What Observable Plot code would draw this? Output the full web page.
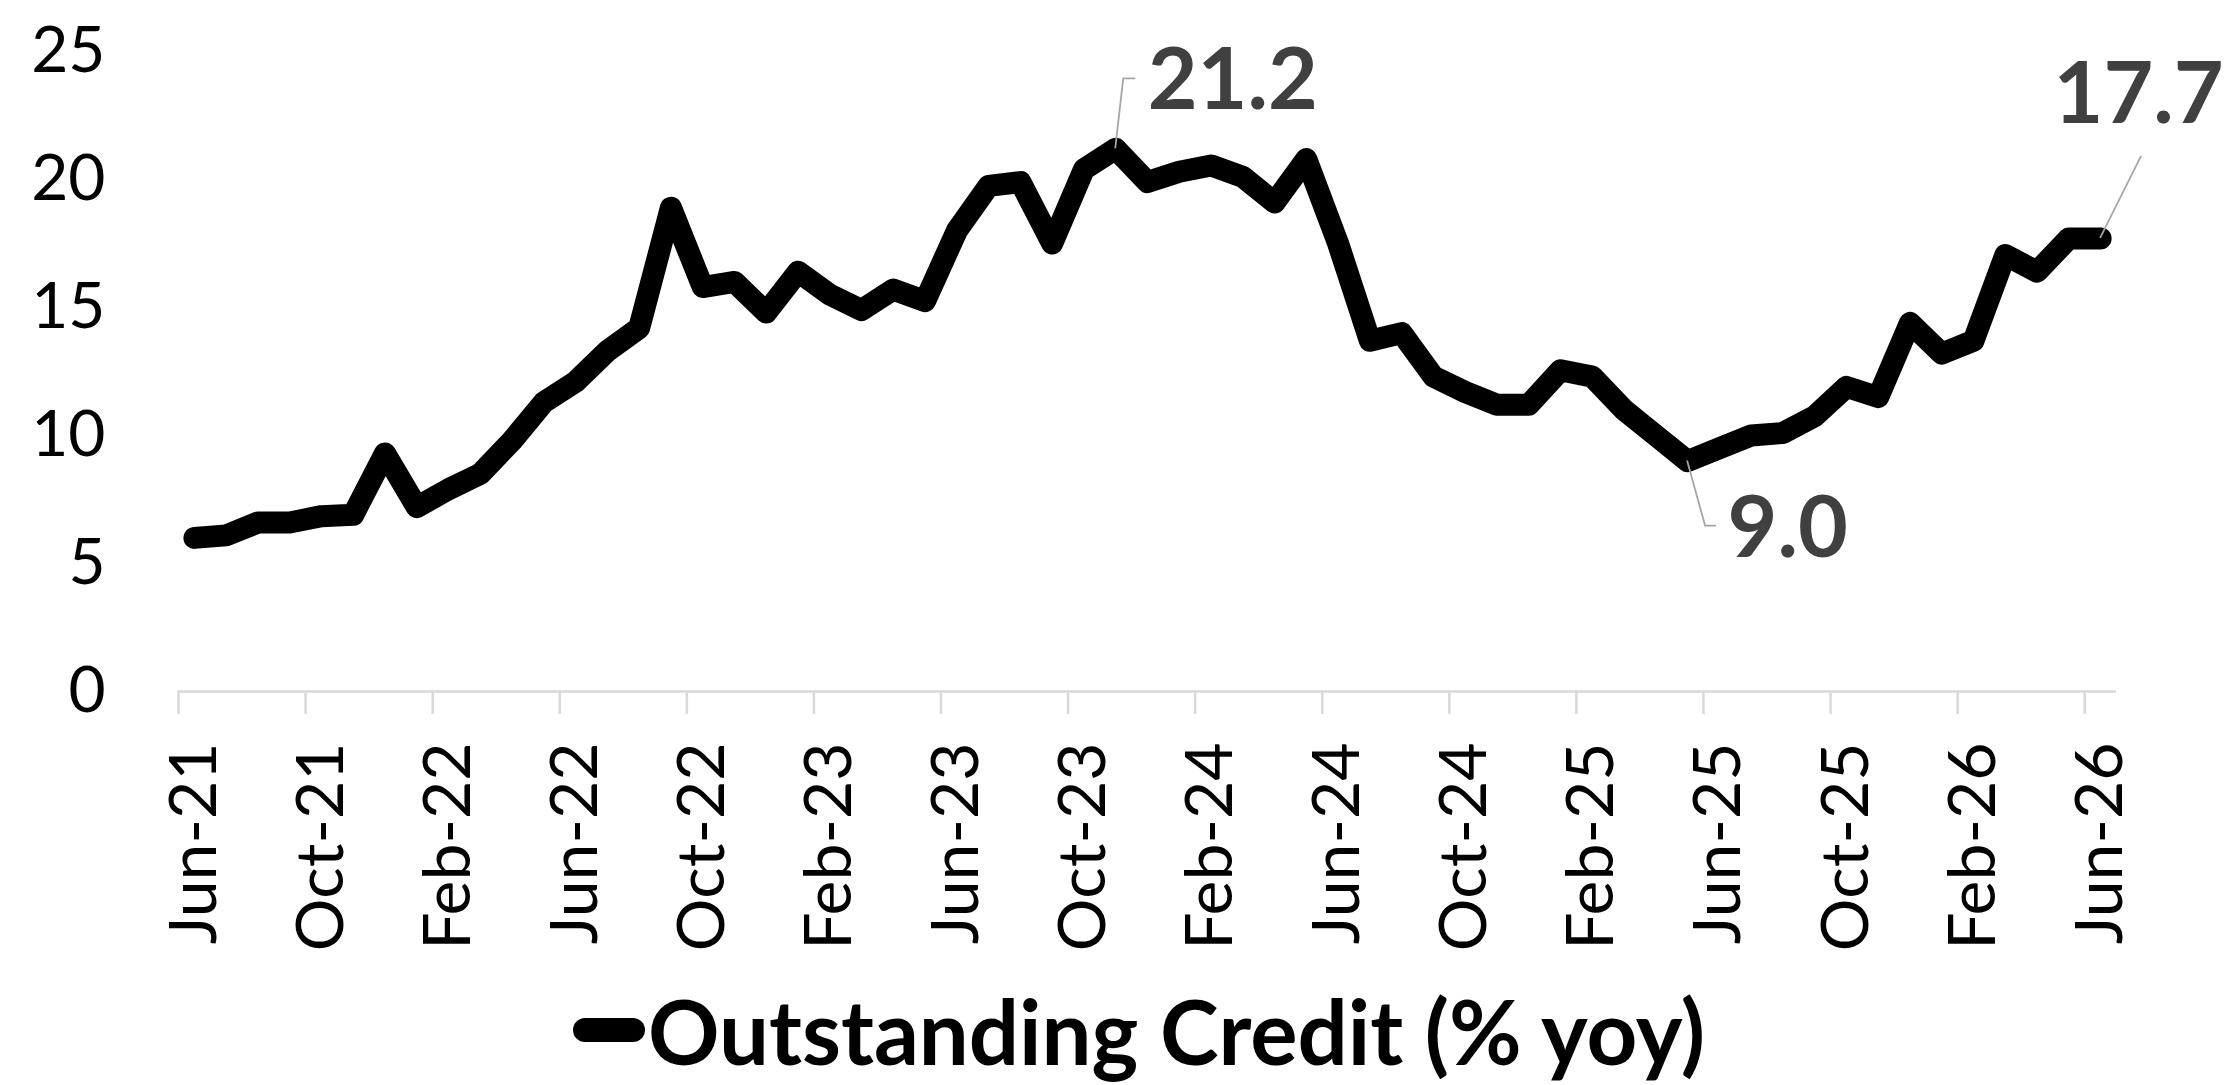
<!DOCTYPE html>
<html><head><meta charset="utf-8">
<script src="https://cdn.jsdelivr.net/npm/d3@7"></script>
<script src="https://cdn.jsdelivr.net/npm/@observablehq/plot@0.6"></script>
<style>
html,body{margin:0;padding:0;background:#fff;}
body{width:2228px;height:1085px;position:relative;overflow:hidden;font-family:Lato,sans-serif;}
#chart{position:absolute;left:0;top:0;}
#legend{position:absolute;left:573px;top:978px;height:104px;display:flex;align-items:center;white-space:nowrap;}
#legend .sw{display:inline-block;width:72px;height:24px;border-radius:12px;background:#000;}
#legend .tx{display:inline-block;font-family:Lato,sans-serif;font-weight:bold;font-size:89px;line-height:1;color:#000;transform-origin:left center;margin-left:3px;}
</style></head><body>
<div id="chart"></div>
<div id="legend"><span class="sw"></span><span class="tx">Outstanding Credit (% yoy)</span></div>
<script>
const months = [
  "Jun-21","Jul-21","Aug-21","Sep-21","Oct-21","Nov-21","Dec-21",
  "Jan-22","Feb-22","Mar-22","Apr-22","May-22","Jun-22","Jul-22","Aug-22","Sep-22","Oct-22","Nov-22","Dec-22",
  "Jan-23","Feb-23","Mar-23","Apr-23","May-23","Jun-23","Jul-23","Aug-23","Sep-23","Oct-23","Nov-23","Dec-23",
  "Jan-24","Feb-24","Mar-24","Apr-24","May-24","Jun-24","Jul-24","Aug-24","Sep-24","Oct-24","Nov-24","Dec-24",
  "Jan-25","Feb-25","Mar-25","Apr-25","May-25","Jun-25","Jul-25","Aug-25","Sep-25","Oct-25","Nov-25","Dec-25",
  "Jan-26","Feb-26","Mar-26","Apr-26","May-26","Jun-26"
];
const credit = [
  6.0, 6.1, 6.6, 6.6, 6.85, 6.9, 9.3,
  7.2, 7.9, 8.5, 9.8, 11.3, 12.1, 13.3, 14.2, 18.9, 15.8, 16.0, 14.8,
  16.4, 15.5, 14.9, 15.7, 15.25, 18.0, 19.75, 19.9, 17.5, 20.4, 21.2, 19.9,
  20.3, 20.55, 20.1, 19.1, 20.8, 17.5, 13.7, 14.0, 12.3, 11.7, 11.2, 11.2,
  12.55, 12.3, 11.0, 10.0, 9.0, 9.5, 10.0, 10.1, 10.75, 11.9, 11.5, 14.4,
  13.2, 13.7, 17.05, 16.4, 17.7, 17.7
];
const yTicks = [0, 5, 10, 15, 20, 25];
const tickLabels = ["Jun-21","Oct-21","Feb-22","Jun-22","Oct-22","Feb-23","Jun-23","Oct-23","Feb-24","Jun-24","Oct-24","Feb-25","Jun-25","Oct-25","Feb-26","Jun-26"];
const seriesName = "Outstanding Credit (% yoy)";
const peakIdx = [29];
const troughIdx = [47];
const lastIdx = [60];

const labelIdx = tickLabels.map(l => months.indexOf(l));
const boundaries = labelIdx; // tick marks at category boundaries
const data = credit.map((v, i) => ({i, v, m: months[i]}));
const fmt = i => credit[i].toFixed(1);
const lblStyle = {fontSize: 86, fontWeight: "bold", fill: "#404040", fontFamily: "Lato"};

const plot = Plot.plot({
  width: 2228,
  height: 965,
  marginLeft: 178,
  marginRight: 112,
  marginTop: 51,
  marginBottom: 274,
  style: {fontFamily: "Lato, sans-serif", background: "#fff", color: "#000"},
  x: {type: "linear", domain: [0, months.length]},
  y: {domain: [0, 25]},
  marks: [
    Plot.axisY({ticks: yTicks, tickSize: 0, tickPadding: 73, fontSize: 64, label: null, fill: "#000"}),
    Plot.ruleY([0], {stroke: "#d9d9d9", strokeWidth: 2.5}),
    Plot.axisX({ticks: boundaries, tickSize: 23, tickFormat: () => "", label: null, stroke: "#d9d9d9", strokeWidth: 2.5}),
    Plot.axisX({ticks: labelIdx.map(i => i + 0.5), tickFormat: v => months[Math.round(v - 0.5)], tickSize: 0, tickPadding: 51, tickRotate: -90, fontSize: 66, label: null, fill: "#000"}),
    Plot.line(data, {x: d => d.i + 0.5, y: "v", stroke: "#000", strokeWidth: 22, strokeLinejoin: "round", strokeLinecap: "round"}),
    Plot.text(peakIdx, {x: i => i + 0.5, y: i => credit[i], text: fmt, dx: 32, dy: -67, textAnchor: "start", ...lblStyle}),
    Plot.text(troughIdx, {x: i => i + 0.5, y: i => credit[i], text: fmt, dx: 40, dy: 68, textAnchor: "start", ...lblStyle}),
    Plot.text(lastIdx, {x: i => i + 0.5, y: i => credit[i], text: fmt, dx: 123, dy: -143, textAnchor: "end", ...lblStyle})
  ]
});

// leader lines from the labelled points, positioned through the plot's own scales
const sx = plot.scale("x"), sy = plot.scale("y");
const leaders = [
  [peakIdx[0], [[8, -70], [20, -70]]],
  [troughIdx[0], [[18, 65], [29, 65]]],
  [lastIdx[0], [[41, -82]]]
];
const ns = "http://www.w3.org/2000/svg";
for (const [i, pts] of leaders) {
  const x0 = sx.apply(i + 0.5), y0 = sy.apply(credit[i]);
  const p = document.createElementNS(ns, "path");
  p.setAttribute("d", "M" + x0 + "," + y0 + pts.map(([dx, dy]) => "L" + (x0 + dx) + "," + (y0 + dy)).join(""));
  p.setAttribute("fill", "none");
  p.setAttribute("stroke", "#a6a6a6");
  p.setAttribute("stroke-width", "1.8");
  plot.appendChild(p);
}
document.getElementById("chart").appendChild(plot);

// condense the legend text to the reference's width
const tx = document.querySelector("#legend .tx");
tx.textContent = seriesName;
const w = tx.getBoundingClientRect().width;
tx.style.transform = "scaleX(" + (1057 / w) + ")";
</script>
</body></html>
